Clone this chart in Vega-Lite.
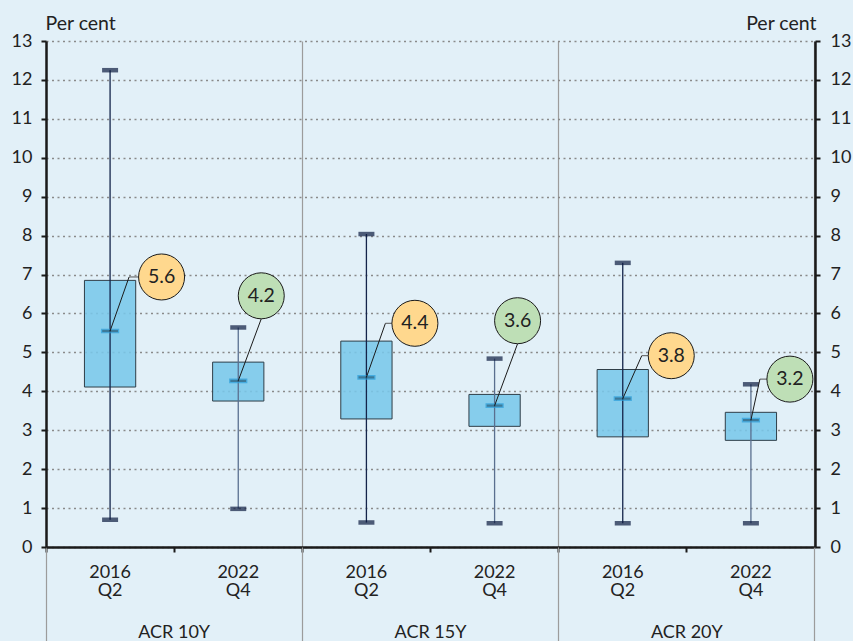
{
  "$schema": "https://vega.github.io/schema/vega-lite/v6.json",
  "autosize": {"type": "none"},
  "width": 769,
  "height": 506,
  "padding": {"left": 46, "top": 41, "right": 38, "bottom": 94},
  "background": "#E2F0F8",
  "config": {
    "view": {"stroke": null},
    "font": "Lato",
    "axis": {"labelFont": "Lato", "titleFont": "Lato", "labelColor": "#222222", "titleColor": "#222222", "labelFontSize": 18, "titleFontSize": 19.5, "titleFontWeight": "normal"}
  },
  "data": {
    "values": [
      {"key": "ACR 10Y|2016 Q2", "group": "ACR 10Y", "period": "2016 Q2", "min": 0.70, "q1": 4.11, "median": 5.55, "q3": 6.85, "max": 12.25, "label": "5.6"},
      {"key": "ACR 10Y|2022 Q4", "group": "ACR 10Y", "period": "2022 Q4", "min": 0.98, "q1": 3.75, "median": 4.27, "q3": 4.75, "max": 5.64, "label": "4.2"},
      {"key": "ACR 15Y|2016 Q2", "group": "ACR 15Y", "period": "2016 Q2", "min": 0.63, "q1": 3.29, "median": 4.36, "q3": 5.29, "max": 8.04, "label": "4.4"},
      {"key": "ACR 15Y|2022 Q4", "group": "ACR 15Y", "period": "2022 Q4", "min": 0.61, "q1": 3.10, "median": 3.63, "q3": 3.92, "max": 4.84, "label": "3.6"},
      {"key": "ACR 20Y|2016 Q2", "group": "ACR 20Y", "period": "2016 Q2", "min": 0.61, "q1": 2.83, "median": 3.81, "q3": 4.56, "max": 7.30, "label": "3.8"},
      {"key": "ACR 20Y|2022 Q4", "group": "ACR 20Y", "period": "2022 Q4", "min": 0.61, "q1": 2.74, "median": 3.26, "q3": 3.46, "max": 4.18, "label": "3.2"}
    ]
  },
  "layer": [
    {
      "mark": {"type": "bar", "width": {"band": 0.4}, "fill": "#79C7E9", "fillOpacity": 0.88, "stroke": "#2F3E48", "strokeWidth": 1},
      "encoding": {
        "x": {"field": "key", "type": "nominal", "sort": null, "scale": {"paddingInner": 0, "paddingOuter": 0},
          "axis": {"orient": "bottom", "title": null, "bandPosition": 0, "labelOffset": 0,
            "labelExpr": "split(split(datum.value, '|')[1], ' ')",
            "labelBaseline": "top", "labelLineHeight": 18, "labelPadding": 11, "labelOverlap": false, "labelBound": false, "labelFlush": false, "labelAngle": 0,
            "domain": true, "domainColor": "#1a1a1a", "domainWidth": 2.5, "ticks": true, "tickColor": "#1a1a1a", "tickWidth": 2, "tickSize": 5, "grid": false}},
        "y": {"field": "q1", "type": "quantitative", "scale": {"domain": [0, 13], "nice": false},
          "axis": {"orient": "left", "values": [0, 1, 2, 3, 4, 5, 6, 7, 8, 9, 10, 11, 12, 13], "title": "Per cent", "titleAngle": 0, "titleAlign": "left", "titleBaseline": "alphabetic", "titleX": -1, "titleY": -12,
            "grid": true, "gridColor": "#8a8a8a", "gridDash": [2, 3.5], "gridWidth": 1.3,
            "domainColor": "#1a1a1a", "domainWidth": 2.5, "tickColor": "#1a1a1a", "tickWidth": 2, "tickSize": 5, "labelPadding": 9}},
        "y2": {"field": "q3"}
      }
    },
    {
      "mark": {"type": "rule", "strokeWidth": 1.3},
      "encoding": {
        "x": {"field": "key", "type": "nominal", "sort": null,
          "axis": {"orient": "bottom", "title": null, "bandPosition": 1, "tickExtra": true, "domain": false, "tickSize": 94, "tickWidth": 1.2,
            "tickColor": {"condition": {"test": "indexof(['ACR 10Y|2016 Q2','ACR 15Y|2016 Q2','ACR 20Y|2016 Q2'], datum.value) >= 0", "value": "transparent"}, "value": "#9c9c9c"},
            "grid": true,
            "gridColor": {"condition": {"test": "indexof(['ACR 10Y|2016 Q2','ACR 15Y|2016 Q2','ACR 20Y|2016 Q2'], datum.value) >= 0", "value": "transparent"}, "value": "#9c9c9c"},
            "gridWidth": 1.2, "gridDash": [],
            "labelExpr": "indexof(['ACR 10Y|2016 Q2','ACR 15Y|2016 Q2','ACR 20Y|2016 Q2'], datum.value) >= 0 ? split(datum.value, '|')[0] : ''",
            "labelOffset": 64.08,
            "labelBaseline": "alphabetic", "labelPadding": -4, "labelOverlap": false, "labelBound": false, "labelFlush": false, "labelAngle": 0}},
        "y": {"field": "min", "type": "quantitative", "scale": {"domain": [0, 13], "nice": false},
          "axis": {"orient": "right", "values": [0, 1, 2, 3, 4, 5, 6, 7, 8, 9, 10, 11, 12, 13], "title": "Per cent", "titleAngle": 0, "titleAlign": "right", "titleBaseline": "alphabetic", "titleX": 1, "titleY": -12,
            "grid": false, "domainColor": "#1a1a1a", "domainWidth": 2.5, "tickColor": "#1a1a1a", "tickWidth": 2, "tickSize": 5, "labelPadding": 10}},
        "y2": {"field": "max"},
        "color": {"condition": {"test": "datum.period === '2016 Q2'", "value": "#14244A"}, "value": "#5A6F8F"}
      }
    },
    {
      "mark": {"type": "tick", "orient": "horizontal", "size": 16, "thickness": 4.5, "color": "#0D1B40"},
      "encoding": {
        "x": {"field": "key", "type": "nominal", "sort": null, "axis": null},
        "y": {"field": "min", "type": "quantitative", "scale": {"domain": [0, 13], "nice": false}, "axis": null}
      }
    },
    {
      "mark": {"type": "tick", "orient": "horizontal", "size": 16, "thickness": 4.5, "color": "#0D1B40"},
      "encoding": {
        "x": {"field": "key", "type": "nominal", "sort": null, "axis": null},
        "y": {"field": "max", "type": "quantitative", "scale": {"domain": [0, 13], "nice": false}, "axis": null}
      }
    },
    {
      "mark": {"type": "tick", "orient": "horizontal", "size": 17, "thickness": 3.5, "color": "#1D5878", "stroke": "#2C9FDB", "strokeWidth": 1.2},
      "encoding": {
        "x": {"field": "key", "type": "nominal", "sort": null, "axis": null},
        "y": {"field": "median", "type": "quantitative", "scale": {"domain": [0, 13], "nice": false}, "axis": null}
      }
    },
    {
      "mark": {"type": "rule", "color": "#1a1a1a", "strokeWidth": 1,
        "x2Offset": {"expr": "datum.period === '2016 Q2' ? 19 : (datum.group === 'ACR 20Y' ? 9 : 23)"},
        "y2Offset": {"expr": "datum.period === '2016 Q2' ? (datum.group === 'ACR 20Y' ? -43 : -54) : (datum.group === 'ACR 20Y' ? -41 : -62)"}},
      "encoding": {
        "x": {"field": "key", "type": "nominal", "sort": null, "axis": null},
        "x2": {"field": "key"},
        "y": {"field": "median", "type": "quantitative", "scale": {"domain": [0, 13], "nice": false}, "axis": null},
        "y2": {"field": "median"}
      }
    },
    {
      "transform": [{"filter": "datum.period === '2016 Q2' || datum.group === 'ACR 20Y'"}],
      "mark": {"type": "rule", "color": "#555555", "strokeWidth": 1,
        "xOffset": {"expr": "datum.period === '2016 Q2' ? 19 : 9"},
        "x2Offset": {"expr": "datum.period === '2016 Q2' ? (datum.group === 'ACR 10Y' ? 29 : 26) : 16.5"},
        "yOffset": {"expr": "datum.period === '2016 Q2' ? (datum.group === 'ACR 20Y' ? -43 : -54) : -41"},
        "y2Offset": {"expr": "datum.period === '2016 Q2' ? (datum.group === 'ACR 20Y' ? -43 : -54) : -41"}},
      "encoding": {
        "x": {"field": "key", "type": "nominal", "sort": null, "axis": null},
        "x2": {"field": "key"},
        "y": {"field": "median", "type": "quantitative", "scale": {"domain": [0, 13], "nice": false}, "axis": null},
        "y2": {"field": "median"}
      }
    },
    {
      "mark": {"type": "point", "shape": "circle", "filled": true, "size": 2116, "stroke": "#1a1a1a", "strokeWidth": 1, "opacity": 1,
        "xOffset": {"expr": "datum.period === '2016 Q2' ? (datum.group === 'ACR 10Y' ? 51.5 : 48.5) : (datum.group === 'ACR 20Y' ? 39 : 23)"},
        "yOffset": {"expr": "datum.period === '2016 Q2' ? (datum.group === 'ACR 20Y' ? -43 : -54) : (datum.group === 'ACR 20Y' ? -41 : -85)"}},
      "encoding": {
        "x": {"field": "key", "type": "nominal", "sort": null, "axis": null},
        "y": {"field": "median", "type": "quantitative", "scale": {"domain": [0, 13], "nice": false}, "axis": null},
        "fill": {"condition": {"test": "datum.period === '2016 Q2'", "value": "#FFD88E"}, "value": "#BEDFB6"}
      }
    },
    {
      "mark": {"type": "text", "fontSize": 19.5, "color": "#222222", "align": "center", "baseline": "middle",
        "xOffset": {"expr": "datum.period === '2016 Q2' ? (datum.group === 'ACR 10Y' ? 51.5 : 48.5) : (datum.group === 'ACR 20Y' ? 39 : 23)"},
        "yOffset": {"expr": "datum.period === '2016 Q2' ? (datum.group === 'ACR 20Y' ? -43 : -54) : (datum.group === 'ACR 20Y' ? -41 : -85)"}},
      "encoding": {
        "x": {"field": "key", "type": "nominal", "sort": null, "axis": null},
        "y": {"field": "median", "type": "quantitative", "scale": {"domain": [0, 13], "nice": false}, "axis": null},
        "text": {"field": "label"}
      }
    }
  ],
  "resolve": {"axis": {"x": "independent", "y": "independent"}}
}
